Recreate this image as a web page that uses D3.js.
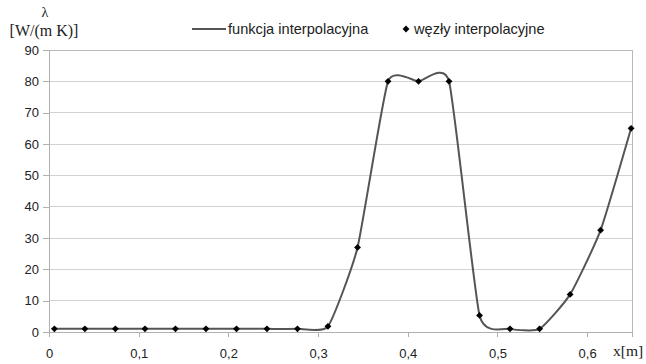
<!DOCTYPE html>
<html><head><meta charset="utf-8">
<script src="https://cdn.jsdelivr.net/npm/d3@7/dist/d3.min.js"></script>
<style>
body{margin:0;background:#fff;}
svg{display:block;}
.tick text{font-family:"Liberation Sans",Arial,sans-serif;font-size:13px;fill:#222;}
</style></head>
<body>
<svg id="c" width="646" height="364"></svg>
<script>
const nodeX = [0.006, 0.040, 0.074, 0.107, 0.141, 0.175, 0.209, 0.243, 0.277, 0.311,
               0.344, 0.378, 0.412, 0.446, 0.480, 0.514, 0.547, 0.581, 0.615, 0.649];
const nodeY = [1, 1, 1, 1, 1, 1, 1, 1, 1, 1.8,
               27, 80, 80, 80, 5.3, 1, 1, 12, 32.5, 65];
const xTicks = [0, 0.1, 0.2, 0.3, 0.4, 0.5, 0.6];
const yTicks = [0, 10, 20, 30, 40, 50, 60, 70, 80, 90];
const seriesNames = ["funkcja interpolacyjna", "węzły interpolacyjne"];

const data = nodeX.map((x, i) => ({x, y: nodeY[i]}));
const svg = d3.select("#c");
const L = 49, R = 632, T = 50, B = 332;
const x = d3.scaleLinear().domain([0, 0.65]).range([L, R]);
const y = d3.scaleLinear().domain([0, 90]).range([B, T]);

// gridlines
svg.append("g").selectAll("line").data(yTicks.filter(d => d > 0)).join("line")
  .attr("x1", L).attr("x2", R).attr("y1", d => y(d)).attr("y2", d => y(d))
  .attr("stroke", d => d === 90 ? "#b8b8b8" : "#d2d2d2").attr("stroke-width", 1)
  .attr("shape-rendering", "crispEdges");
// frame right
svg.append("line").attr("x1", R).attr("x2", R).attr("y1", T).attr("y2", B)
  .attr("stroke", "#b8b8b8").attr("shape-rendering", "crispEdges");

const fmt = d => d === 0 ? "0" : String(d).replace(".", ",");
const xAxis = svg.append("g").attr("transform", `translate(0,${B})`)
  .call(d3.axisBottom(x).tickValues(xTicks).tickFormat(fmt).tickSizeOuter(0).tickSize(5).tickPadding(12));
const yAxis = svg.append("g").attr("transform", `translate(${L},0)`)
  .call(d3.axisLeft(y).tickValues(yTicks).tickSizeOuter(0).tickSize(6).tickPadding(4));
[xAxis, yAxis].forEach(a => {
  a.select(".domain").attr("stroke", "#b0b0b0").attr("shape-rendering", "crispEdges");
  a.selectAll(".tick line").attr("stroke", "#b0b0b0").attr("shape-rendering", "crispEdges");
});

// curve
svg.append("path").datum(data)
  .attr("d", d3.line().x(d => x(d.x)).y(d => y(d.y)).curve(d3.curveCardinal.tension(0.5)))
  .attr("fill", "none").attr("stroke", "#555").attr("stroke-width", 2);

// markers
const sym = d3.symbol().type(d3.symbolDiamond2).size(30);
svg.append("g").selectAll("path").data(data).join("path")
  .attr("transform", d => `translate(${x(d.x)},${y(d.y)})`)
  .attr("d", sym).attr("fill", "#000");

// axis titles
const serif = "'Liberation Serif','DejaVu Serif',serif";
svg.append("text").attr("x", 45).attr("y", 17).attr("text-anchor", "middle")
  .attr("font-family", serif).attr("font-size", 14).attr("fill", "#222").text("λ");
svg.append("text").attr("x", 44).attr("y", 36).attr("text-anchor", "middle")
  .attr("font-family", serif).attr("font-size", 16).attr("fill", "#222").text("[W/(m K)]");
svg.append("text").attr("x", 613).attr("y", 356)
  .attr("font-family", serif).attr("font-size", 15.5).attr("fill", "#222").text("x[m]");

// legend
const sans = "'Liberation Sans',Arial,sans-serif";
const lg = svg.append("g");
lg.append("line").attr("x1", 192).attr("x2", 226).attr("y1", 29).attr("y2", 29)
  .attr("stroke", "#555").attr("stroke-width", 2);
lg.append("text").attr("x", 228).attr("y", 34).attr("font-family", sans).attr("font-size", 14.6)
  .attr("fill", "#222").text(seriesNames[0]);
lg.append("path").attr("transform", "translate(406,29)").attr("d", sym).attr("fill", "#000");
lg.append("text").attr("x", 414).attr("y", 34).attr("font-family", sans).attr("font-size", 14.6)
  .attr("fill", "#222").text(seriesNames[1]);
</script>
</body></html>
